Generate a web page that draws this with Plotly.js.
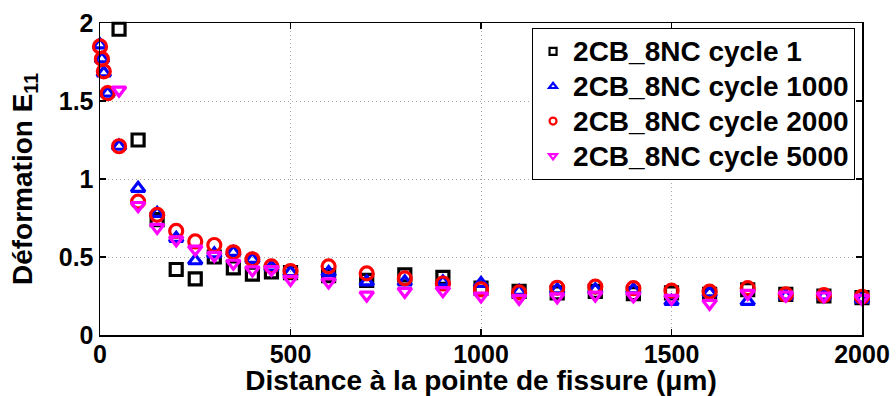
<!DOCTYPE html>
<html>
<head>
<meta charset="utf-8">
<script src="https://cdn.plot.ly/plotly-3.0.1.min.js"></script>
<style>html,body{margin:0;padding:0;background:#fff;}#chart{width:896px;height:396px;}</style>
</head>
<body>
<div id="chart"></div>
<script>
// Distance à la pointe de fissure (µm)
const xEarly = [0, 5, 10, 20];
const xMain = [50, 100, 150, 200, 250, 300, 350, 400, 450, 500, 600, 700, 800, 900, 1000,
               1100, 1200, 1300, 1400, 1500, 1600, 1700, 1800, 1900, 2000];

const seriesNames = ['2CB_8NC cycle 1', '2CB_8NC cycle 1000', '2CB_8NC cycle 2000', '2CB_8NC cycle 5000'];

const cycle1_x = xMain;
const cycle1_y = [1.96, 1.25, 0.74, 0.42, 0.36, 0.50, 0.43, 0.39, 0.405, 0.40, 0.38, 0.35, 0.385, 0.37, 0.30,
                  0.28, 0.27, 0.28, 0.265, 0.27, 0.26, 0.29, 0.26, 0.25, 0.24];

const cycle1000_x = xEarly.concat(xMain);
const cycle1000_y = [1.86, 1.77, 1.68, 1.55,
                     1.21, 0.94, 0.78, 0.62, 0.476, 0.52, 0.53, 0.485, 0.435, 0.40, 0.40, 0.34, 0.34, 0.34, 0.33,
                     0.28, 0.29, 0.29, 0.29, 0.215, 0.27, 0.215, 0.25, 0.25, 0.23];

const cycle2000_x = xEarly.concat(xMain);
const cycle2000_y = [1.85, 1.77, 1.69, 1.55,
                     1.21, 0.855, 0.77, 0.667, 0.60, 0.577, 0.53, 0.485, 0.44, 0.41, 0.44, 0.395, 0.363, 0.33, 0.293,
                     0.273, 0.303, 0.31, 0.30, 0.284, 0.278, 0.30, 0.26, 0.255, 0.245];

const cycle5000_x = xMain;
const cycle5000_y = [1.57, 0.83, 0.69, 0.61, 0.55, 0.51, 0.46, 0.417, 0.42, 0.357, 0.34, 0.256, 0.28, 0.284, 0.25,
                     0.235, 0.245, 0.256, 0.25, 0.235, 0.203, 0.267, 0.255, 0.25, 0.235];

const colors = ['#000000', '#0000ff', '#ff0000', '#ff00ff'];
const symbols = ['square-open', 'triangle-up-open', 'circle-open', 'triangle-down-open'];
const sizes = [12, 12, 13, 12];
const xs = [cycle1_x, cycle1000_x, cycle2000_x, cycle5000_x];
const ys = [cycle1_y, cycle1000_y, cycle2000_y, cycle5000_y];

const FONT = 'Arial, "Liberation Sans", sans-serif';

const traces = [];
for (let i = 0; i < 4; i++) {
  traces.push({
    x: xs[i], y: ys[i], type: 'scatter', mode: 'markers', name: seriesNames[i],
    showlegend: false, cliponaxis: false,
    marker: {symbol: symbols[i], size: sizes[i], color: colors[i], line: {color: colors[i], width: 3.2}}
  });
}
// legend entries (smaller symbols as in the reference legend)
for (let i = 0; i < 4; i++) {
  traces.push({
    x: [null], y: [null], type: 'scatter', mode: 'markers',
    name: '<span style="font-size:28px">' + seriesNames[i] + '</span>',
    showlegend: true,
    marker: {symbol: symbols[i], size: 7, color: colors[i], line: {color: colors[i], width: 2.2}}
  });
}

const layout = {
  width: 896, height: 396,
  margin: {l: 100, r: 34, t: 23, b: 61, pad: 0},
  paper_bgcolor: '#ffffff', plot_bgcolor: '#ffffff',
  font: {family: FONT, color: '#000', size: 24, weight: 'bold'},
  xaxis: {
    range: [0, 2000], tickvals: [0, 500, 1000, 1500, 2000], ticktext: ['0', '500', '1000', '1500', '2000'],
    showline: true, linecolor: '#000', linewidth: 1.5, mirror: 'ticks',
    ticks: 'inside', ticklen: 6, tickwidth: 1.5, tickcolor: '#000',
    showgrid: true, gridcolor: '#a8a8a8', griddash: '1px,3px', gridwidth: 1,
    zeroline: false,
    tickfont: {family: FONT, size: 25, weight: 'bold', color: '#000'},
    ticklabelstandoff: -4,
    title: {text: 'Distance à la pointe de fissure (μm)', font: {family: FONT, size: 28, weight: 'bold', color: '#000'}, standoff: 3},
    automargin: false
  },
  yaxis: {
    range: [0, 2], tickvals: [0, 0.5, 1, 1.5, 2], ticktext: ['0', '0.5', '1', '1.5', '2'],
    showline: true, linecolor: '#000', linewidth: 1.5, mirror: 'ticks',
    ticks: 'inside', ticklen: 6, tickwidth: 1.5, tickcolor: '#000',
    showgrid: true, gridcolor: '#a8a8a8', griddash: '1px,3px', gridwidth: 1,
    zeroline: false,
    tickfont: {family: FONT, size: 25, weight: 'bold', color: '#000'},
    ticklabelstandoff: 0,
    title: {text: 'Déformation E<sub>11</sub>', font: {family: FONT, size: 28, weight: 'bold', color: '#000'}, standoff: 18},
    automargin: false
  },
  legend: {
    x: 0.567, y: 0.984, xanchor: 'left', yanchor: 'top',
    bgcolor: '#ffffff', bordercolor: '#000', borderwidth: 1,
    font: {family: FONT, size: 24.5, weight: 'bold', color: '#000'},
    tracegroupgap: 0, itemwidth: 30
  },
  showlegend: true
};

Plotly.newPlot('chart', traces, layout, {displayModeBar: false, staticPlot: true});
</script>
</body>
</html>
